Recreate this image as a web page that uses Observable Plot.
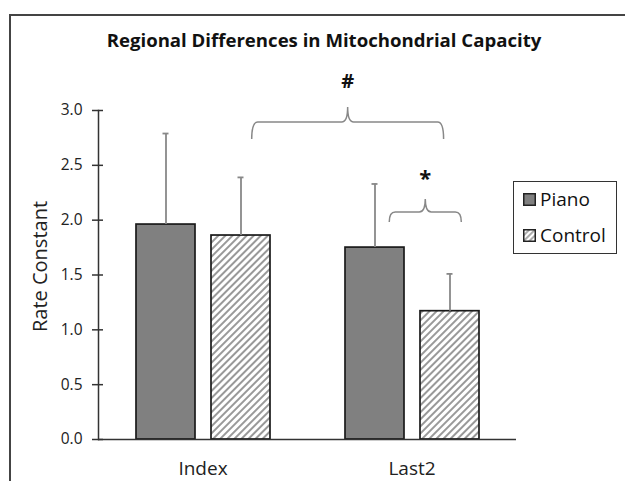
<!DOCTYPE html>
<html>
<head>
<meta charset="utf-8">
<script src="https://cdn.jsdelivr.net/npm/d3@7"></script>
<script src="https://cdn.jsdelivr.net/npm/@observablehq/plot@0.6"></script>
<style>
  html, body { margin: 0; padding: 0; background: #fff; }
  #wrap { position: relative; width: 625px; height: 481px; overflow: hidden; font-family: "Open Sans", sans-serif; }
  #border { position: absolute; left: 9px; top: 14px; width: 700px; height: 600px; border: 2px solid #444; box-sizing: border-box; }
  #chart { position: absolute; left: 0; top: 0; }
  #title { position: absolute; left: 0; width: 648px; top: 29px; text-align: center; font-weight: 700; font-size: 18.6px; line-height: 1.2; color: #111; white-space: nowrap; }
  #legend { position: absolute; left: 513px; top: 181px; width: 104px; height: 73px; border: 1.5px solid #333; box-sizing: border-box; }
  .item { position: absolute; left: 9px; display: flex; align-items: center; font-size: 19px; color: #111; }
  .item svg { margin-right: 4px; }
</style>
</head>
<body>
<div id="wrap">
  <div id="border"></div>
  <div id="chart"></div>
  <div id="title">Regional Differences in Mitochondrial Capacity</div>
  <div id="legend"></div>
</div>
<script>
// ---- data ----
const regions = ["Index", "Last2"];
const groups = ["Piano", "Control"];
const pianoMean = [1.96, 1.75];
const pianoSD = [0.83, 0.58];
const controlMean = [1.86, 1.17];
const controlSD = [0.53, 0.34];
const yTicks = [0, 0.5, 1.0, 1.5, 2.0, 2.5, 3.0];
// significance brackets: label, endpoints (region, group), level in data units
const brackets = [
  { label: "#", from: ["Index", "Control"], to: ["Last2", "Control"], level: 2.89 },
  { label: "*", from: ["Last2", "Piano"], to: ["Last2", "Control"], level: 2.07 }
];

const rows = regions.flatMap((r, i) => [
  { region: r, group: "Piano", value: pianoMean[i], sd: pianoSD[i] },
  { region: r, group: "Control", value: controlMean[i], sd: controlSD[i] }
]);
const pianoRows = rows.filter(d => d.group === "Piano");
const controlRows = rows.filter(d => d.group === "Control");

const plot = Plot.plot({
  width: 625,
  height: 481,
  marginLeft: 98,
  marginRight: 109,
  marginTop: 110,
  marginBottom: 42,
  style: { fontFamily: "Open Sans, sans-serif", color: "#222", background: "transparent" },
  fx: { domain: regions, padding: 0, axis: null },
  x: { domain: groups, paddingInner: 0.217, paddingOuter: 0.5, axis: null },
  y: { domain: [0, 3], axis: null },
  marks: [
    Plot.barY(pianoRows, { fx: "region", x: "group", y: "value", fill: "#808080", stroke: "#1a1a1a", strokeWidth: 1.7 }),
    Plot.barY(controlRows, { fx: "region", x: "group", y: "value", fill: "url(#hatch)", stroke: "#1a1a1a", strokeWidth: 1.7 }),
    Plot.ruleX(rows, { fx: "region", x: "group", y1: "value", y2: d => d.value + d.sd, stroke: "#888", strokeWidth: 1.8 }),
    Plot.tickY(rows, { fx: "region", x: "group", y: d => d.value + d.sd, stroke: "#888", strokeWidth: 1.8, insetLeft: 26.5, insetRight: 26.5 }),
    Plot.ruleY([0], { stroke: "#333", strokeWidth: 1.5 }),
    Plot.frame({ anchor: "left", facetAnchor: "left", stroke: "#333", strokeWidth: 1.5 }),
    Plot.axisY({ ticks: yTicks, tickFormat: d3.format(".1f"), tickSize: 6, tickPadding: 10, fontSize: 15.5, stroke: "#333", strokeWidth: 1.5, fill: "#222", label: null }),
    Plot.axisY({ ticks: yTicks, tickSize: -5, tickFormat: () => "", stroke: "#333", strokeWidth: 1.5, label: null }),
    Plot.axisFx({ anchor: "bottom", tickSize: 0, tickPadding: 22, fontSize: 19, fill: "#222", label: null })
  ]
});

document.getElementById("chart").appendChild(plot);

const svg = d3.select(plot);
// hatch pattern
const defs = svg.insert("defs", ":first-child");
const pat = defs.append("pattern").attr("id", "hatch").attr("patternUnits", "userSpaceOnUse")
  .attr("width", 5).attr("height", 5).attr("patternTransform", "rotate(45)");
pat.append("rect").attr("width", 5).attr("height", 5).attr("fill", "#fff");
pat.append("line").attr("x1", 1).attr("y1", 0).attr("x2", 1).attr("y2", 5).attr("stroke", "#999").attr("stroke-width", 2);

const fxS = plot.scale("fx"), xS = plot.scale("x"), yS = plot.scale("y");

// y label
svg.append("text")
  .attr("transform", `translate(42,${(yS.apply(0) + yS.apply(3)) / 2 - 8}) rotate(-90)`)
  .attr("text-anchor", "middle").attr("dominant-baseline", "middle")
  .attr("font-size", 20).attr("fill", "#222").text("Rate Constant");

// brackets via library scales (x scale range is offset by the left margin inside facets)
const x0off = Math.min(...xS.range);
const cx = (r, g) => fxS.apply(r) + (xS.apply(g) - x0off) + xS.bandwidth / 2;
const bw = xS.bandwidth;
const offs = [[0.19, -0.1], [0.25, 0.2]];
brackets.forEach((b, i) => {
  const x0 = cx(...b.from) + offs[i][0] * bw;
  const x1 = cx(...b.to) + offs[i][1] * bw;
  const xm = (x0 + x1) / 2;
  const yh = yS.apply(b.level);
  const ye = yh + (i === 0 ? 17 : 10);
  const yt = yh - (i === 0 ? 15 : 13);
  const r = 6;
  const p = d3.path();
  p.moveTo(x0, ye);
  p.quadraticCurveTo(x0, yh, x0 + r, yh);
  p.lineTo(xm - r, yh);
  p.quadraticCurveTo(xm, yh, xm, yt);
  p.quadraticCurveTo(xm, yh, xm + r, yh);
  p.lineTo(x1 - r, yh);
  p.quadraticCurveTo(x1, yh, x1, ye);
  svg.append("path").attr("d", p.toString()).attr("fill", "none").attr("stroke", "#888").attr("stroke-width", 1.5);
  svg.append("text").attr("x", xm).attr("y", i === 0 ? yt - 24 : yt - 19)
    .attr("text-anchor", "middle").attr("dominant-baseline", "middle")
    .attr("font-weight", 700).attr("font-size", i === 0 ? 20 : 22).attr("fill", "#111").text(b.label);
});

// legend
const legend = document.getElementById("legend");
groups.forEach((g, i) => {
  const item = document.createElement("div");
  item.className = "item";
  item.style.top = (i === 0 ? 4 : 40) + "px";
  item.innerHTML = `<svg width="13" height="13"><defs><pattern id="lh${i}" patternUnits="userSpaceOnUse" width="4" height="4" patternTransform="rotate(45)"><rect width="4" height="4" fill="#fff"/><line x1="1" y1="0" x2="1" y2="4" stroke="#999" stroke-width="1.6"/></pattern></defs><rect x="0.75" y="0.75" width="11.5" height="11.5" fill="${g === "Piano" ? "#808080" : `url(#lh${i})`}" stroke="#222" stroke-width="1.5"/></svg><span>${g}</span>`;
  legend.appendChild(item);
});
</script>
</body>
</html>
